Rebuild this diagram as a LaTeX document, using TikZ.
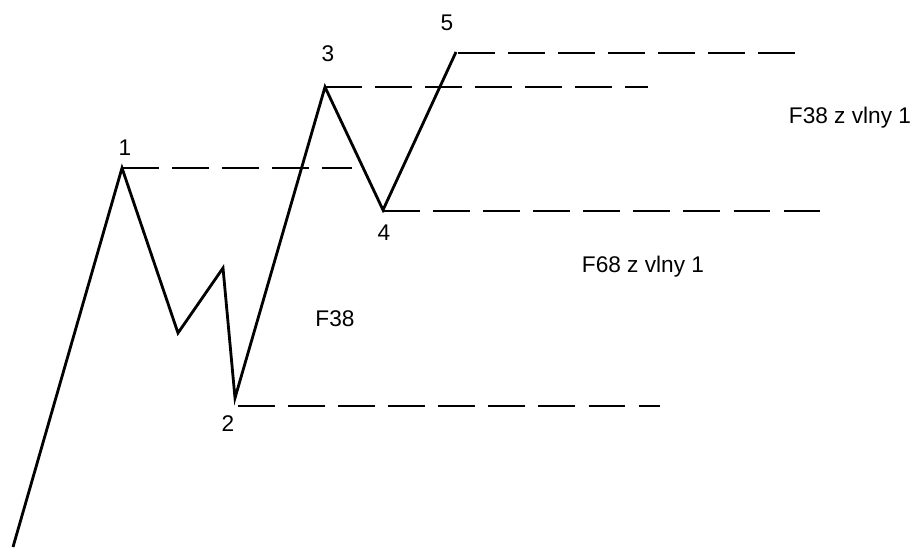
\documentclass[tikz,border=0pt]{standalone}
\usepackage{fontspec}
\setmainfont{Liberation Sans}
\tikzset{
  wave/.style={line width=1.6pt, line join=miter},
  level/.style={line width=1.1pt, dash pattern=on 21pt off 7.5pt},
  lbl/.style={inner sep=0pt, font=\fontsize{12.9}{15}\selectfont}
}
\begin{document}
\begin{tikzpicture}[x=0.02cm, y=-0.02cm]
\useasboundingbox (0,0) rectangle (915,547);

\coordinate (w0) at (13,547);
\coordinate (w1) at (122,168);
\coordinate (wa) at (178,333);
\coordinate (wb) at (223,268);
\coordinate (w2) at (235,398);
\coordinate (w3) at (325,87);
\coordinate (w4) at (383,210);
\coordinate (w5) at (456,52);

\coordinate (e1) at (352,168);
\coordinate (e2) at (660,406);
\coordinate (e3) at (648,87);
\coordinate (e4) at (825,211);
\coordinate (e5) at (808,53);

\node[lbl] (n1) at (125,148) {1};
\node[lbl] (n2) at (228,424) {2};
\node[lbl] (n3) at (328,54) {3};
\node[lbl] (n4) at (384,233) {4};
\node[lbl] (n5) at (447,23) {5};
\node[lbl] (f38) at (335,319) {F38};
\node[lbl] (f38v) at (850,118) {F38 z vlny 1};
\node[lbl] (f68v) at (643,267) {F68 z vlny 1};

\draw[level] (w1) -- (e1);
\draw[level] (w2 |- e2) ++(3,0) -- (e2);
\draw[level] (w3) -- (e3);
\draw[level] (w4 |- e4) -- (e4);
\draw[level] (w5 |- e5) ++(2,0) -- (e5);

\draw[wave] (w0) -- (w1) -- (wa) -- (wb) -- (w2) -- (w3) -- (w4) -- (w5);

\end{tikzpicture}
\end{document}
